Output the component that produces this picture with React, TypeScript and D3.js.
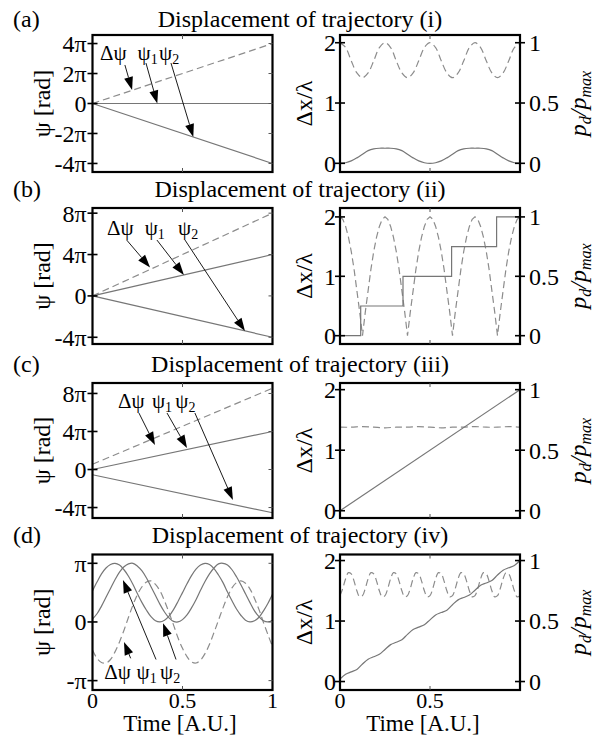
import React from 'react';
import * as d3 from 'd3';

const W = 595;
const H = 735;
const FONT = '"Liberation Serif", "Times New Roman", serif';

// sample times
const tEnds = [0, 1];
const t16 = d3.range(17).map(i => i / 16);
const t32 = d3.range(33).map(i => i / 32);
const t40 = d3.range(41).map(i => i / 40);
const t64 = d3.range(65).map(i => i / 64);

// phases, in units of pi
const dPsiA = [0, 4];
const psi1A = [0, 0];
const psi2A = [0, -4];

const dPsiB = [0, 8];
const psi1B = [0, 4];
const psi2B = [0, -4];

const dPsiC = [0.55, 8.55];
const psi1C = [0, 4];
const psi2C = [-0.55, -4.55];

const psi1D = [0.53, 0.68, 0.82, 0.92, 0.98, 1.0, 0.97, 0.89, 0.78, 0.64, 0.48, 0.33, 0.2, 0.09, 0.02, 0.0, 0.03, 0.1, 0.21, 0.35, 0.5,
  0.65, 0.79, 0.9, 0.97, 1.0, 0.98, 0.91, 0.8, 0.67, 0.51, 0.36, 0.22, 0.11, 0.03, 0.0, 0.02, 0.08, 0.19, 0.32, 0.47];
const psi2D = [0.05, 0.14, 0.27, 0.42, 0.57, 0.72, 0.85, 0.94, 0.99, 1.0, 0.95, 0.87, 0.75, 0.6, 0.45, 0.3, 0.17, 0.07, 0.01, 0.0, 0.04,
  0.12, 0.24, 0.38, 0.54, 0.69, 0.82, 0.92, 0.99, 1.0, 0.97, 0.89, 0.77, 0.63, 0.48, 0.33, 0.19, 0.09, 0.02, 0.0, 0.03];
const dPsiD = [-0.48, -0.62, -0.69, -0.7, -0.64, -0.51, -0.34, -0.14, 0.08, 0.29, 0.47, 0.6, 0.68, 0.7, 0.64, 0.53, 0.36, 0.16, -0.05, -0.27, -0.45,
  -0.59, -0.68, -0.7, -0.65, -0.54, -0.38, -0.18, 0.03, 0.24, 0.43, 0.58, 0.67, 0.7, 0.66, 0.56, 0.4, 0.21, -0.01, -0.22, -0.42];

// displacement (dx/lambda) and power ratio p_d/p_max
const dxA = [0, 0.01, 0.04, 0.09, 0.15, 0.21, 0.24, 0.25, 0.25, 0.25, 0.24, 0.21, 0.15, 0.09, 0.04, 0.01, 0,
  0.01, 0.04, 0.09, 0.15, 0.21, 0.24, 0.25, 0.25, 0.25, 0.24, 0.21, 0.15, 0.09, 0.04, 0.01, 0];
const pA = [1.0, 0.96, 0.85, 0.75, 0.71, 0.75, 0.85, 0.96, 1.0, 0.96, 0.85, 0.75, 0.71, 0.75, 0.85, 0.96, 1.0,
  0.96, 0.85, 0.75, 0.71, 0.75, 0.85, 0.96, 1.0, 0.96, 0.85, 0.75, 0.71, 0.75, 0.85, 0.96, 0.99];

const stepTimesB = [0, 0.115, 0.35, 0.62, 0.87, 1];
const dxB = [0, 0.5, 1, 1.5, 2, 2];
const pB = [1, 0.98, 0.92, 0.83, 0.71, 0.56, 0.38, 0.2, 0, 0.2, 0.38, 0.56, 0.71, 0.83, 0.92, 0.98,
  1, 0.98, 0.92, 0.83, 0.71, 0.56, 0.38, 0.2, 0, 0.2, 0.38, 0.56, 0.71, 0.83, 0.92, 0.98,
  1, 0.98, 0.92, 0.83, 0.71, 0.56, 0.38, 0.2, 0, 0.2, 0.38, 0.56, 0.71, 0.83, 0.92, 0.98,
  1, 0.98, 0.92, 0.83, 0.71, 0.56, 0.38, 0.2, 0, 0.2, 0.38, 0.56, 0.71, 0.83, 0.92, 0.98, 1];

const dxC = [0, 2];
const pC = [0.69, 0.69, 0.695, 0.69, 0.685, 0.69, 0.69, 0.695, 0.69, 0.685, 0.69, 0.69, 0.695, 0.69, 0.69, 0.695, 0.69];

const dxD = [0.04, 0.12, 0.16, 0.2, 0.29, 0.37, 0.41, 0.45, 0.53, 0.61, 0.65, 0.69, 0.78, 0.86, 0.9, 0.94, 1.02,
  1.1, 1.14, 1.18, 1.27, 1.35, 1.39, 1.43, 1.51, 1.59, 1.63, 1.67, 1.76, 1.84, 1.88, 1.92, 2.0];
const pD = [0.71, 0.77, 0.85, 0.9, 0.89, 0.83, 0.75, 0.7, 0.71, 0.77, 0.85, 0.9, 0.89, 0.83, 0.75, 0.7,
  0.71, 0.77, 0.85, 0.9, 0.89, 0.83, 0.75, 0.7, 0.71, 0.77, 0.85, 0.9, 0.89, 0.83, 0.75, 0.7,
  0.71, 0.77, 0.85, 0.9, 0.89, 0.83, 0.75, 0.7, 0.71, 0.77, 0.85, 0.9, 0.89, 0.83, 0.75, 0.7,
  0.71, 0.77, 0.85, 0.9, 0.89, 0.83, 0.75, 0.7, 0.71, 0.77, 0.85, 0.9, 0.89, 0.83, 0.75, 0.7, 0.71];

// tick labels
const psiTicksAB = [-4, -2, 0, 2, 4];
const psiTicksBC = [-4, 0, 4, 8];
const psiTicksD = [-1, 0, 1];
const dxTicks = [0, 1, 2];
const pTicks = [0, 0.5, 1];
const timeTicksL = [0, 0.5, 1];
const timeTicksR = [0, 0.5];

const piLabel = (v: number) => (v === 0 ? '0' : `${v < 0 ? '-' : ''}${Math.abs(v) === 1 ? '' : Math.abs(v)}π`);

// annotation labels and arrows (time, phase in pi)
const notesA = {
  labels: [{ s: 'Δψ', sub: '', t: 0.042, v: 2.9 }, { s: 'ψ', sub: '1', t: 0.25, v: 2.9 }, { s: 'ψ', sub: '2', t: 0.37, v: 2.9 }],
  arrows: [{ from: [0.18, 2.57], to: [0.22, 0.9] }, { from: [0.297, 2.7], to: [0.36, 0] }, { from: [0.436, 2.7], to: [0.56, -2.24] }],
};
const notesB = {
  labels: [{ s: 'Δψ', sub: '', t: 0.08, v: 5.89 }, { s: 'ψ', sub: '1', t: 0.29, v: 5.89 }, { s: 'ψ', sub: '2', t: 0.475, v: 5.89 }],
  arrows: [{ from: [0.19, 5.4], to: [0.32, 2.75] }, { from: [0.358, 5.4], to: [0.508, 2.03] }, { from: [0.514, 5.4], to: [0.847, -3.4] }],
};
const notesC = {
  labels: [{ s: 'Δψ', sub: '', t: 0.142, v: 6.47 }, { s: 'ψ', sub: '1', t: 0.33, v: 6.47 }, { s: 'ψ', sub: '2', t: 0.46, v: 6.47 }],
  arrows: [{ from: [0.258, 5.94], to: [0.347, 2.58] }, { from: [0.414, 5.94], to: [0.525, 2.26] }, { from: [0.569, 5.94], to: [0.78, -3.2] }],
};
const notesD = {
  labels: [{ s: 'Δψ', sub: '', t: 0.065, v: -0.98 }, { s: 'ψ', sub: '1', t: 0.245, v: -0.98 }, { s: 'ψ', sub: '2', t: 0.375, v: -0.98 }],
  arrows: [{ from: [0.212, -0.62], to: [0.175, -0.34] }, { from: [0.353, -0.64], to: [0.169, 0.715] }, { from: [0.464, -0.64], to: [0.392, -0.02] }],
};

const smooth = d3.curveCatmullRom.alpha(0.5);

const rows = [
  {
    key: 'a', tag: '(a)', title: 'Displacement of trajectory (i)', top: 35, bottom: 172, titleY: 27,
    psiDomain: [-4.57, 4.57], psiTicks: psiTicksAB, dxDomain: [-0.144, 2.128],
    left: [{ t: tEnds, v: dPsiA, dashed: true }, { t: tEnds, v: psi1A }, { t: tEnds, v: psi2A }],
    right: [{ t: t32, v: pA, dashed: true, p: true, curve: smooth }, { t: t32, v: dxA, curve: smooth }],
    notes: notesA, timeAxis: false,
  },
  {
    key: 'b', tag: '(b)', title: 'Displacement of trajectory (ii)', top: 208, bottom: 344, titleY: 197,
    psiDomain: [-4.65, 8.5], psiTicks: psiTicksBC, dxDomain: [-0.14, 2.15],
    left: [{ t: tEnds, v: dPsiB, dashed: true }, { t: tEnds, v: psi1B }, { t: tEnds, v: psi2B }],
    right: [{ t: t64, v: pB, dashed: true, p: true }, { t: stepTimesB, v: dxB, curve: d3.curveStepAfter }],
    notes: notesB, timeAxis: false,
  },
  {
    key: 'c', tag: '(c)', title: 'Displacement of trajectory (iii)', top: 383, bottom: 518, titleY: 372,
    psiDomain: [-5.1, 9.1], psiTicks: psiTicksBC, dxDomain: [-0.12, 2.11],
    left: [{ t: tEnds, v: dPsiC, dashed: true }, { t: tEnds, v: psi1C }, { t: tEnds, v: psi2C }],
    right: [{ t: t16, v: pC, dashed: true, p: true, curve: smooth }, { t: tEnds, v: dxC }],
    notes: notesC, timeAxis: false,
  },
  {
    key: 'd', tag: '(d)', title: 'Displacement of trajectory (iv)', top: 554.5, bottom: 690, titleY: 543,
    psiDomain: [-1.16, 1.15], psiTicks: psiTicksD, dxDomain: [-0.14, 2.1],
    left: [{ t: t40, v: dPsiD, dashed: true, curve: smooth }, { t: t40, v: psi1D, curve: smooth }, { t: t40, v: psi2D, curve: smooth }],
    right: [{ t: t64, v: pD, dashed: true, p: true, curve: smooth }, { t: t32, v: dxD, curve: smooth }],
    notes: notesD, timeAxis: true,
  },
];

const xL = d3.scaleLinear().domain([0, 1]).range([92.5, 272.5]);
const xR = d3.scaleLinear().domain([0, 1]).range([340, 520]);

const SOLID = '#767676';
const DASHED = '#8c8c8c';

const Arrow = ({ x1, y1, x2, y2 }) => {
  const dx = x2 - x1;
  const dy = y2 - y1;
  const len = Math.hypot(dx, dy);
  const ux = dx / len;
  const uy = dy / len;
  const hl = 13;
  const hw = 4.5;
  const bx = x2 - ux * hl;
  const by = y2 - uy * hl;
  const pts = [[x2, y2], [bx - uy * hw, by + ux * hw], [bx + uy * hw, by - ux * hw]];
  return (
    <g>
      <line x1={x1} y1={y1} x2={bx} y2={by} stroke="#000" strokeWidth={0.9} />
      <polygon points={pts.map(p => p.join(',')).join(' ')} fill="#000" />
    </g>
  );
};

const Row = ({ r }) => {
  const yL = d3.scaleLinear().domain(r.psiDomain).range([r.bottom, r.top]);
  const yR = d3.scaleLinear().domain(r.dxDomain).range([r.bottom, r.top]);
  const yP = d3.scaleLinear().domain([r.dxDomain[0] / 2, r.dxDomain[1] / 2]).range([r.bottom, r.top]);
  const midY = (r.top + r.bottom) / 2;

  const path = (x, y, s) =>
    d3.line<number>()
      .x((_, i) => x(s.t[i]))
      .y(v => y(v))
      .curve(s.curve || d3.curveLinear)(s.v);

  const tickFont = 24;

  return (
    <g>
      <clipPath id={`cl-${r.key}`}>
        <rect x={xL(0)} y={r.top} width={xL(1) - xL(0)} height={r.bottom - r.top} />
      </clipPath>
      <clipPath id={`cr-${r.key}`}>
        <rect x={xR(0)} y={r.top} width={xR(1) - xR(0)} height={r.bottom - r.top} />
      </clipPath>

      {/* titles */}
      <text x={13} y={r.titleY} fontSize={24}>{r.tag}</text>
      <text x={300} y={r.titleY} fontSize={24} textAnchor="middle">{r.title}</text>

      {/* left panel: phases */}
      <g clipPath={`url(#cl-${r.key})`}>
        {r.left.map((s, i) => (
          <path key={i} d={path(xL, yL, s)} fill="none" stroke={s.dashed ? DASHED : SOLID}
            strokeWidth={1.2} strokeDasharray={s.dashed ? '7,4' : null} />
        ))}
      </g>
      {r.notes.arrows.map((a, i) => (
        <Arrow key={i} x1={xL(a.from[0])} y1={yL(a.from[1])} x2={xL(a.to[0])} y2={yL(a.to[1])} />
      ))}
      {r.notes.labels.map((l, i) => (
        <text key={i} x={xL(l.t)} y={yL(l.v)} fontSize={21}>
          {l.s}
          {l.sub && <tspan dy={4} fontSize={14}>{l.sub}</tspan>}
        </text>
      ))}
      <rect x={xL(0)} y={r.top} width={xL(1) - xL(0)} height={r.bottom - r.top} fill="none" stroke="#000" strokeWidth={2.2} />
      {r.psiTicks.map(v => (
        <g key={v}>
          <line x1={xL(0) - 5} x2={xL(0) + 5} y1={yL(v)} y2={yL(v)} stroke="#000" strokeWidth={1.6} />
          <line x1={xL(1) - 4} x2={xL(1)} y1={yL(v)} y2={yL(v)} stroke="#555" strokeWidth={1} />
          <text x={xL(0) - 6} y={yL(v)} dy="0.35em" fontSize={tickFont} textAnchor="end">{piLabel(v)}</text>
        </g>
      ))}
      <line x1={xL(0.5)} x2={xL(0.5)} y1={r.bottom} y2={r.bottom - 4} stroke="#555" strokeWidth={1} />
      <line x1={xL(0.5)} x2={xL(0.5)} y1={r.top} y2={r.top + 4} stroke="#555" strokeWidth={1} />
      <text transform={`translate(50,${midY}) rotate(-90)`} fontSize={24} textAnchor="middle">ψ [rad]</text>

      {/* right panel: displacement and power */}
      <g clipPath={`url(#cr-${r.key})`}>
        {r.right.map((s, i) => (
          <path key={i} d={path(xR, s.p ? yP : yR, s)} fill="none" stroke={s.dashed ? DASHED : SOLID}
            strokeWidth={1.2} strokeDasharray={s.dashed ? '7,4' : null} />
        ))}
      </g>
      <rect x={xR(0)} y={r.top} width={xR(1) - xR(0)} height={r.bottom - r.top} fill="none" stroke="#000" strokeWidth={2.2} />
      {dxTicks.map(v => (
        <g key={v}>
          <line x1={xR(0) - 5} x2={xR(0) + 5} y1={yR(v)} y2={yR(v)} stroke="#000" strokeWidth={1.6} />
          <text x={xR(0) - 4} y={yR(v)} dy="0.35em" fontSize={tickFont} textAnchor="end">{v}</text>
        </g>
      ))}
      {pTicks.map(v => (
        <g key={v}>
          <line x1={xR(1) - 5} x2={xR(1) + 5} y1={yP(v)} y2={yP(v)} stroke="#000" strokeWidth={1.6} />
          <text x={xR(1) + 9} y={yP(v)} dy="0.35em" fontSize={tickFont}>{v}</text>
        </g>
      ))}
      <line x1={xR(0.5)} x2={xR(0.5)} y1={r.bottom} y2={r.bottom - 4} stroke="#555" strokeWidth={1} />
      <line x1={xR(0.5)} x2={xR(0.5)} y1={r.top} y2={r.top + 4} stroke="#555" strokeWidth={1} />
      <text transform={`translate(312,${midY}) rotate(-90)`} fontSize={24} textAnchor="middle">Δx/λ</text>
      <text transform={`translate(586,${midY}) rotate(-90)`} fontSize={24} textAnchor="middle" fontStyle="italic">
        p<tspan dy={5} fontSize={16}>d</tspan><tspan dy={-5}>/p</tspan><tspan dy={5} fontSize={16}>max</tspan>
      </text>

      {r.timeAxis && (
        <g>
          {timeTicksL.map(v => (
            <text key={v} x={xL(v)} y={708} fontSize={22} textAnchor="middle">{v}</text>
          ))}
          {timeTicksR.map(v => (
            <text key={v} x={xR(v)} y={708} fontSize={22} textAnchor="middle">{v}</text>
          ))}
          <text x={180} y={731} fontSize={23} textAnchor="middle">Time [A.U.]</text>
          <text x={423} y={731} fontSize={23} textAnchor="middle">Time [A.U.]</text>
        </g>
      )}
    </g>
  );
};

const App = () => (
  <svg width={W} height={H} style={{ position: 'absolute', left: 0, top: 0, background: '#fff' }} fontFamily={FONT}>
    {rows.map(r => <Row key={r.key} r={r} />)}
  </svg>
);

export default App;
